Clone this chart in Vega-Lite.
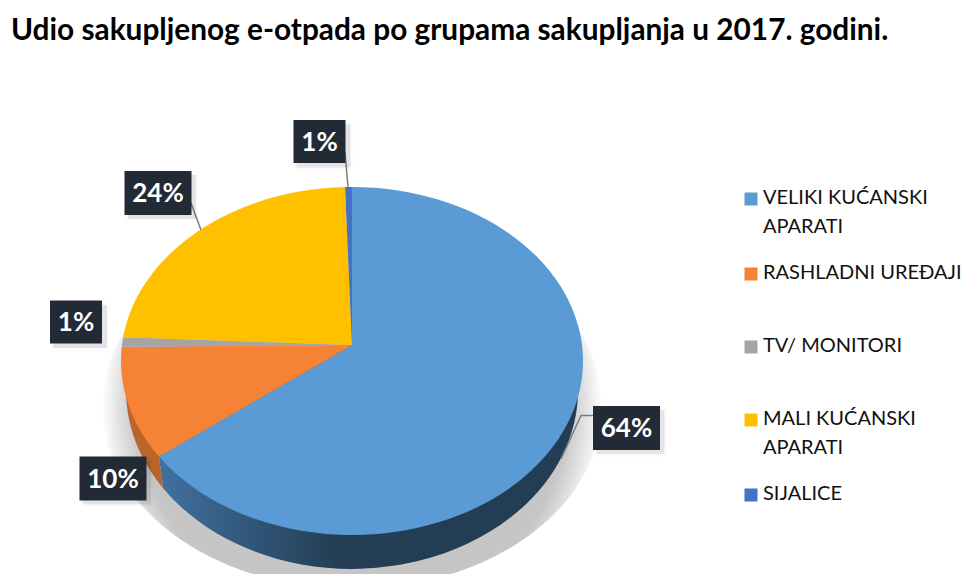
{
  "$schema": "https://vega.github.io/schema/vega-lite/v6.json",
  "width": 970,
  "height": 574,
  "padding": 0,
  "autosize": "none",
  "background": "white",
  "title": {
    "text": "Udio sakupljenog e-otpada po grupama sakupljanja u 2017. godini.",
    "font": "Lato",
    "fontWeight": "bold",
    "fontSize": 29.8,
    "color": "#000000",
    "anchor": "start",
    "frame": "group",
    "offset": -46,
    "dx": 11
  },
  "config": {"view": {"stroke": null}},
  "data": {
    "values": [
      {"grupa": "VELIKI KUĆANSKI APARATI", "udio": 0.64, "redoslijed": 1},
      {"grupa": "RASHLADNI UREĐAJI", "udio": 0.1, "redoslijed": 2},
      {"grupa": "TV/ MONITORI", "udio": 0.01, "redoslijed": 3},
      {"grupa": "MALI KUĆANSKI APARATI", "udio": 0.24, "redoslijed": 4},
      {"grupa": "SIJALICE", "udio": 0.01, "redoslijed": 5}
    ]
  },
  "resolve": {"scale": {"x": "independent", "y": "independent", "shape": "independent", "color": "independent"}},
  "layer": [
    {
      "encoding": {
        "x": {"datum": 352, "type": "quantitative", "axis": null, "scale": {"domain": [0, 970], "nice": false}},
        "y": {"datum": 345, "type": "quantitative", "axis": null, "scale": {"domain": [574, 0], "nice": false}}
      },
      "resolve": {"scale": {"shape": "independent", "color": "independent"}},
      "layer": [
        {
          "transform": [{"filter": "datum.redoslijed == 1"}],
          "mark": {
            "type": "point",
            "filled": true,
            "opacity": 1,
            "size": 4,
            "shape": "M-250 62 A250 182 0 1 1 250 62 A250 182 0 1 1 -250 62 Z",
            "fill": {
              "gradient": "radial",
              "x1": 0.5, "y1": 0.5, "r1": 0,
              "x2": 0.5, "y2": 0.5, "r2": 0.5,
              "stops": [
                {"offset": 0, "color": "#c2c2c2"},
                {"offset": 0.86, "color": "#c6c6c6"},
                {"offset": 0.93, "color": "#e0e0e0"},
                {"offset": 1, "color": "#ffffff"}
              ]
            }
          }
        },
        {
          "mark": {"type": "point", "filled": true, "opacity": 1, "size": 1, "shape": "square"},
          "encoding": {
            "color": {
              "field": "grupa",
              "type": "nominal",
              "sort": null,
              "scale": {
                "domain": ["VELIKI KUĆANSKI APARATI", "RASHLADNI UREĐAJI", "TV/ MONITORI", "MALI KUĆANSKI APARATI", "SIJALICE"],
                "range": ["#5b9bd5", "#f58235", "#a5a5a5", "#ffc000", "#4472c4"]
              },
              "legend": {
                "title": null,
                "orient": "none",
                "legendX": 741,
                "legendY": 162.5,
                "symbolType": "square",
                "symbolSize": 169,
                "symbolStrokeWidth": 0,
                "labelFont": "Lato",
                "labelFontSize": 20,
                "labelColor": "#111111",
                "labelLimit": 260,
                "labelOffset": 2,
                "labelBaseline": "top",
                "clipHeight": 73,
                "rowPadding": 0,
                "labelExpr": "indexof(datum.label, ' APARATI') > 0 ? [slice(datum.label, 0, indexof(datum.label, ' APARATI')), 'APARATI'] : datum.label",
                "encoding": {
                  "labels": {"dy": {"value": -11}, "lineHeight": {"value": 29}}
                }
              }
            }
          }
        },
        {
          "transform": [{"filter": "datum.redoslijed == 2"}],
          "mark": {
            "type": "point",
            "filled": true,
            "opacity": 1,
            "size": 4,
            "shape": "M-193 111.6 L-189 143 A226 179 0 0 1 -226 43 L0 0 Z",
            "fill": "#b9652b"
          }
        },
        {
          "transform": [{"filter": "datum.redoslijed == 1"}],
          "mark": {
            "type": "point",
            "filled": true,
            "opacity": 1,
            "size": 4,
            "shape": "M-193 111.6 L-189 143 A226 179 0 0 0 226 43 L0 0 Z",
            "fill": {
              "gradient": "linear",
              "x1": 0, "y1": 0, "x2": 1, "y2": 0,
              "stops": [
                {"offset": 0, "color": "#41719f"},
                {"offset": 0.43, "color": "#233d54"},
                {"offset": 1, "color": "#233d54"}
              ]
            }
          }
        },
        {
          "mark": {"type": "point", "filled": true, "opacity": 1, "size": 4},
          "encoding": {
            "color": {
              "field": "grupa",
              "type": "nominal",
              "sort": null,
              "legend": null,
              "scale": {
                "domain": ["VELIKI KUĆANSKI APARATI", "RASHLADNI UREĐAJI", "TV/ MONITORI", "MALI KUĆANSKI APARATI", "SIJALICE"],
                "range": ["#5b9bd5", "#f58235", "#a5a5a5", "#ffc000", "#4472c4"]
              }
            },
            "shape": {
              "field": "grupa",
              "type": "nominal",
              "legend": null,
              "scale": {
                "domain": ["VELIKI KUĆANSKI APARATI", "RASHLADNI UREĐAJI", "TV/ MONITORI", "MALI KUĆANSKI APARATI", "SIJALICE"],
                "range": [
                  "M0 0 L0 -158 A231 174 0 1 1 -193 111.6 Z",
                  "M0 0 L-193 111.6 A231 174 0 0 1 -230.2 1.7 Z",
                  "M0 0 L-230.2 1.7 A231 174 0 0 1 -228.9 -7.7 Z",
                  "M0 0 L-228.9 -7.7 A231 174 0 0 1 -7 -157.9 Z",
                  "M0 0 L-7 -157.9 A231 174 0 0 1 0 -158 Z"
                ]
              }
            }
          }
        },
        {
          "transform": [{"filter": "datum.redoslijed == 1 || datum.redoslijed == 4 || datum.redoslijed == 5"}],
          "mark": {"type": "point", "filled": false, "opacity": 1, "size": 4, "stroke": "#7f7f7f", "strokeWidth": 1.5},
          "encoding": {
            "shape": {
              "field": "redoslijed",
              "type": "nominal",
              "legend": null,
              "scale": {
                "domain": [1, 4, 5],
                "range": [
                  "M241 70.5 L229 70.5 L209 114",
                  "M-161 -142 L-151 -115",
                  "M-7 -193 L-4 -158"
                ]
              }
            }
          }
        }
      ]
    },
    {
      "encoding": {
        "x": {"field": "redoslijed", "type": "quantitative", "axis": null, "scale": {"domain": [1, 2, 3, 4, 5], "range": [626.5, 113, 76, 158, 319.5], "zero": false, "nice": false}},
        "y": {"field": "redoslijed", "type": "quantitative", "axis": null, "scale": {"domain": [1, 2, 3, 4, 5], "range": [428, 478.5, 322, 193, 141.5], "zero": false, "nice": false}}
      },
      "resolve": {"scale": {"shape": "independent"}},
      "layer": [
        {
          "mark": {"type": "point", "filled": true, "size": 4, "fill": "#000000", "opacity": 0.1, "stroke": "#000000", "strokeOpacity": 0.1, "strokeWidth": 5},
          "encoding": {
            "shape": {
              "field": "udio",
              "type": "nominal",
              "legend": null,
              "scale": {
                "domain": [0.01, 0.1, 0.24, 0.64],
                "range": [
                  "M-23 -17 H31 V26 H-23 Z",
                  "M-30 -18 H38 V26 H-30 Z",
                  "M-30 -18 H38 V26 H-30 Z",
                  "M-30 -18 H38 V26 H-30 Z"
                ]
              }
            }
          }
        },
        {
          "mark": {"type": "point", "filled": true, "size": 4, "fill": "#222a36", "opacity": 1},
          "encoding": {
            "shape": {
              "field": "udio",
              "type": "nominal",
              "legend": null,
              "scale": {
                "domain": [0.01, 0.1, 0.24, 0.64],
                "range": [
                  "M-26 -21.5 H26 V21.5 H-26 Z",
                  "M-33.5 -22 H33.5 V22 H-33.5 Z",
                  "M-33.5 -22 H33.5 V22 H-33.5 Z",
                  "M-33.5 -22 H33.5 V22 H-33.5 Z"
                ]
              }
            }
          }
        },
        {
          "mark": {"type": "text", "font": "Lato", "fontWeight": "bold", "fontSize": 26, "color": "#ffffff", "align": "center", "baseline": "middle", "dy": 1},
          "encoding": {"text": {"field": "udio", "type": "quantitative", "format": ".0%"}}
        }
      ]
    }
  ]
}
